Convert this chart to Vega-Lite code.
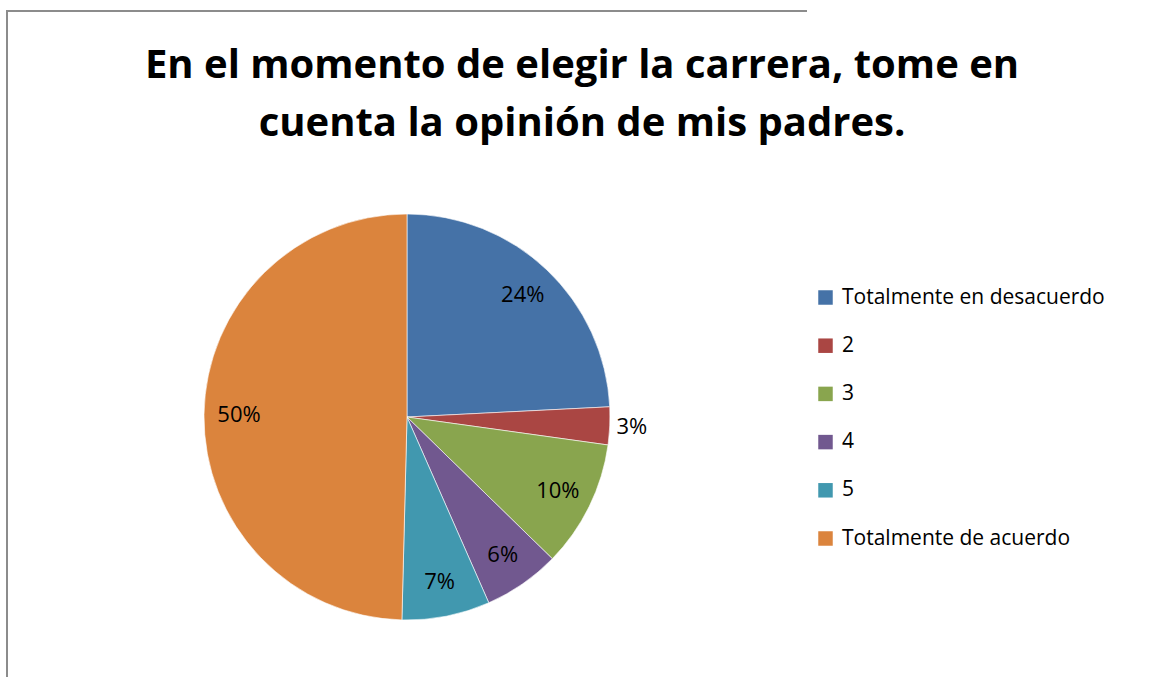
{
  "$schema": "https://vega.github.io/schema/vega-lite/v6.json",
  "padding": {"left": 7, "top": 11, "right": 40, "bottom": 0},
  "width": 800,
  "height": 812,
  "background": "white",
  "view": {"stroke": "#8c8c8c", "strokeWidth": 2, "strokeDash": [800, 1612, 812]},
  "config": {
    "font": "Open Sans"
  },
  "title": {
    "text": ["En el momento de elegir la carrera, tome en", "cuenta la opinión de mis padres."],
    "font": "Open Sans",
    "fontSize": 40,
    "fontWeight": "bold",
    "color": "#000000",
    "anchor": "middle",
    "baseline": "top",
    "lineHeight": 58,
    "offset": -133,
    "dx": 175
  },
  "data": {
    "values": [
      {"code": 1, "categoria": "Totalmente en desacuerdo", "porcentaje": 0.242},
      {"code": 2, "categoria": "2", "porcentaje": 0.030},
      {"code": 3, "categoria": "3", "porcentaje": 0.101},
      {"code": 4, "categoria": "4", "porcentaje": 0.061},
      {"code": 5, "categoria": "5", "porcentaje": 0.070},
      {"code": 6, "categoria": "Totalmente de acuerdo", "porcentaje": 0.496}
    ]
  },
  "encoding": {
    "theta": {"field": "porcentaje", "type": "quantitative", "stack": true},
    "order": {"field": "code", "type": "quantitative", "sort": "ascending"}
  },
  "layer": [
    {
      "mark": {"type": "arc", "outerRadius": 203, "stroke": "#ffffff", "strokeWidth": 0.6},
      "encoding": {
        "color": {
          "field": "categoria",
          "type": "nominal",
          "sort": ["Totalmente en desacuerdo", "2", "3", "4", "5", "Totalmente de acuerdo"],
          "scale": {
            "domain": ["Totalmente en desacuerdo", "2", "3", "4", "5", "Totalmente de acuerdo"],
            "range": ["#4572A7", "#AA4643", "#89A54E", "#71588F", "#4198AF", "#DB843D"]
          },
          "legend": {
            "title": null,
            "orient": "none",
            "legendX": 808,
            "legendY": 276,
            "padding": 0,
            "symbolType": "square",
            "symbolSize": 210,
            "symbolStrokeWidth": 0,
            "symbolOpacity": 1,
            "labelFont": "Open Sans",
            "labelFontSize": 21,
            "labelColor": "#000000",
            "labelOffset": 6,
            "rowPadding": 26.2,
            "labelLimit": 400
          }
        }
      }
    },
    {
      "mark": {"type": "text", "radius": 168, "font": "Open Sans", "fontSize": 22, "color": "#000000"},
      "encoding": {
        "text": {
          "condition": {"test": "datum.porcentaje < 0.05", "value": ""},
          "field": "porcentaje", "type": "quantitative", "format": ".0%"
        }
      }
    },
    {
      "mark": {"type": "text", "radius": 225, "font": "Open Sans", "fontSize": 22, "color": "#000000"},
      "encoding": {
        "text": {
          "condition": {"test": "datum.porcentaje >= 0.05", "value": ""},
          "field": "porcentaje", "type": "quantitative", "format": ".0%"
        }
      }
    }
  ]
}
